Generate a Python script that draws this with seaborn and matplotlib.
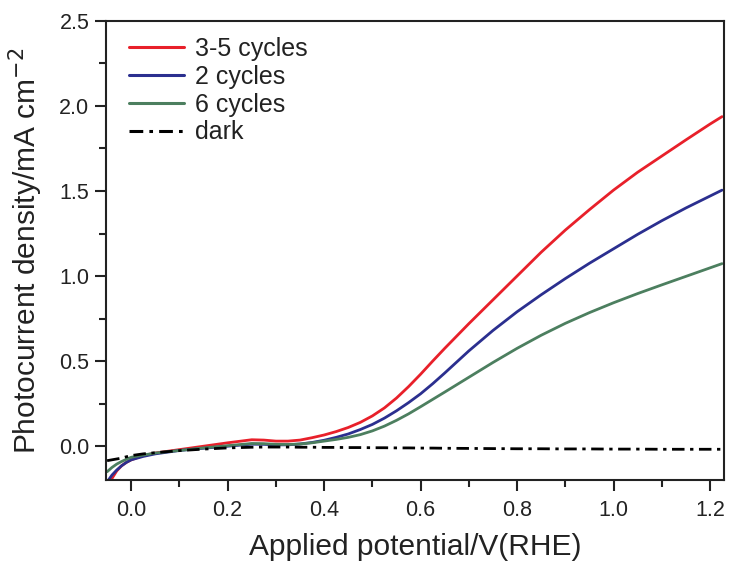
import numpy as np
import pandas as pd
import matplotlib
matplotlib.use("Agg")
import matplotlib.pyplot as plt
import seaborn as sns
from matplotlib.ticker import MultipleLocator

# Potential (V vs RHE)
potential = [-0.05, -0.04, -0.03, -0.02, -0.01, 0.0, 0.025, 0.05, 0.10, 0.15, 0.20, 0.25,
             0.275, 0.30, 0.325, 0.35, 0.375, 0.40, 0.425, 0.45, 0.475, 0.50, 0.525,
             0.55, 0.575, 0.60, 0.625, 0.65, 0.70, 0.75, 0.80, 0.85, 0.90, 0.95,
             1.00, 1.05, 1.10, 1.15, 1.20, 1.225]

# Photocurrent density (mA cm^-2)
j_3_5 = [-0.27, -0.19, -0.145, -0.115, -0.095, -0.08, -0.055, -0.04, -0.02, 0.0, 0.02, 0.038,
         0.036, 0.03, 0.03, 0.036, 0.05, 0.066, 0.086, 0.11, 0.14, 0.178, 0.225,
         0.283, 0.35, 0.423, 0.5, 0.575, 0.72, 0.86, 1.0, 1.14, 1.27, 1.39,
         1.505, 1.61, 1.705, 1.80, 1.893, 1.937]
j_2 = [-0.21, -0.17, -0.14, -0.115, -0.095, -0.08, -0.06, -0.045, -0.025, -0.012, 0.0, 0.012,
       0.011, 0.008, 0.008, 0.013, 0.022, 0.035, 0.052, 0.072, 0.098, 0.128, 0.165,
       0.208, 0.256, 0.308, 0.367, 0.43, 0.56, 0.68, 0.79, 0.89, 0.985, 1.075,
       1.16, 1.245, 1.325, 1.40, 1.47, 1.505]
j_6 = [-0.15, -0.125, -0.105, -0.09, -0.077, -0.065, -0.052, -0.04, -0.025, -0.01, 0.003, 0.016,
       0.015, 0.011, 0.01, 0.013, 0.02, 0.03, 0.04, 0.052, 0.068, 0.09, 0.118,
       0.152, 0.19, 0.232, 0.275, 0.318, 0.405, 0.492, 0.575, 0.652, 0.722, 0.785,
       0.843, 0.897, 0.948, 0.998, 1.048, 1.073]
j_dark = [-0.085, -0.08, -0.075, -0.07, -0.062, -0.055, -0.045, -0.038, -0.026, -0.017, -0.01, -0.006,
          -0.005, -0.005, -0.005, -0.006, -0.006, -0.007, -0.007, -0.008, -0.008, -0.009, -0.009,
          -0.01, -0.01, -0.011, -0.011, -0.012, -0.013, -0.014, -0.015, -0.015, -0.016, -0.016,
          -0.017, -0.017, -0.018, -0.018, -0.018, -0.018]

labels = ["3-5 cycles", "2 cycles", "6 cycles", "dark"]
colors = ["#e8202a", "#2b2f8f", "#4c7f5f", "#000000"]

sns.set_style("ticks")
plt.rcParams["font.family"] = ["Liberation Sans", "DejaVu Sans"]

fig = plt.figure(figsize=(7.32, 5.63), dpi=100)
ax = fig.add_axes([0.145, 0.147, 0.844, 0.816])

series = [j_3_5, j_2, j_6, j_dark]
for lab, col, y in zip(labels, colors, series):
    df = pd.DataFrame({"E": potential, "J": y})
    sns.lineplot(data=df, x="E", y="J", ax=ax, color=col, lw=2.0,
                 label=lab, sort=False)
    if lab == "dark":
        ax.lines[-1].set_dashes([4.5, 2.0, 1.2, 2.0])

ax.set_xlim(-0.052, 1.229)
ax.set_ylim(-0.2, 2.5)
ax.xaxis.set_minor_locator(MultipleLocator(0.1))
ax.yaxis.set_minor_locator(MultipleLocator(0.25))
ax.set_xticks([0.0, 0.2, 0.4, 0.6, 0.8, 1.0, 1.2])
ax.set_xticklabels(["0.0", "0.2", "0.4", "0.6", "0.8", "1.0", "1.2"])
ax.set_yticks([0.0, 0.5, 1.0, 1.5, 2.0, 2.5])
ax.set_yticklabels(["0.0", "0.5", "1.0", "1.5", "2.0", "2.5"])

ax.tick_params(which="major", direction="out", length=8, width=1.5,
               labelsize=15.5, colors="#222222")
ax.tick_params(axis="x", which="major", pad=6)
ax.tick_params(axis="y", which="major", pad=4)
ax.tick_params(which="minor", direction="out", length=5, width=1.5, colors="#222222")
for sp in ax.spines.values():
    sp.set_linewidth(1.5)
    sp.set_color("#222222")

ax.set_xlabel("Applied potential/V(RHE)", fontsize=21.5, color="#222222", labelpad=9)
ax.set_ylabel("Photocurrent density/mA cm$^{-2}$", fontsize=21.5, color="#222222", labelpad=10)

leg = ax.legend(loc="upper left", frameon=False, fontsize=18, handlelength=2.2,
                handletextpad=0.45, labelspacing=0.15, borderpad=0.3,
                bbox_to_anchor=(0.005, 1.008))
for h in leg.get_lines():
    h.set_linewidth(2.2)
for t in leg.get_texts():
    t.set_color("#222222")

fig.savefig("out.png", dpi=100)
